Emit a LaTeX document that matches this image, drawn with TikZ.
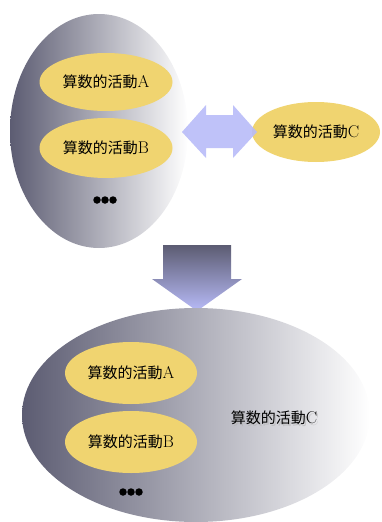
\documentclass[tikz,border=0pt]{standalone}
\usepackage{fontspec}
\newfontfamily\cjk{Noto Sans CJK JP}
\usetikzlibrary{shapes.geometric}
\definecolor{ygold}{RGB}{240,212,112}
\definecolor{darkg}{RGB}{92,92,114}
\definecolor{arrowc}{RGB}{184,187,248}
\newcommand{\act}[1]{{\cjk 算数的活動}{\fontsize{17}{17}\selectfont #1}}
\begin{document}
\begin{tikzpicture}[x=1pt,y=-1pt,
  act/.style={ellipse, fill=ygold, minimum width=133pt, minimum height=58pt, inner sep=0pt, font=\fontsize{15}{16}\selectfont},
  lbl/.style={font=\fontsize{15}{16}\selectfont},
  dot/.style={circle, fill=black, minimum size=7.5pt, inner sep=0pt}]
\useasboundingbox (0,0) rectangle (381,522);
% top left big ellipse
\shade[left color=darkg, right color=white] (99,131) ellipse [x radius=89, y radius=117];
\node[act] (a1) at (106,82) {\act{A}};
\node[act, minimum height=60pt] (b1) at (106,148) {\act{B}};
\node[dot] (d1a) at (97,200) {};
\node[dot] (d1b) at (105,200) {};
\node[dot] (d1c) at (113,200) {};
% C ellipse
\node[act, minimum width=128pt, minimum height=60pt] (c1) at (316,132) {\act{C}};
% double arrow
\fill[arrowc, opacity=0.9] (182,132) -- (206,105) -- (206,115) -- (233,115) -- (233,105) -- (257,132) -- (233,158) -- (233,148) -- (206,148) -- (206,158) -- cycle;
% down arrow
\shade[top color=darkg, bottom color=arrowc] (163,245) -- (231,245) -- (231,279) -- (242,279) -- (197,311) -- (152,279) -- (163,279) -- cycle;
% bottom big ellipse
\shade[left color=darkg, right color=white] (196,415) ellipse [x radius=174, y radius=107];
\node[act, minimum width=132pt, minimum height=62pt] (a2) at (131,373) {\act{A}};
\node[act, minimum width=132pt, minimum height=62pt] (b2) at (131,442) {\act{B}};
\node[dot] (d2a) at (123,492) {};
\node[dot] (d2b) at (131,492) {};
\node[dot] (d2c) at (139,492) {};
\node[lbl, text=black!30, opacity=0.6] at (275.5,419.5) {\act{C}};
\node[lbl] (c2) at (274,418) {\act{C}};
\end{tikzpicture}
\end{document}
